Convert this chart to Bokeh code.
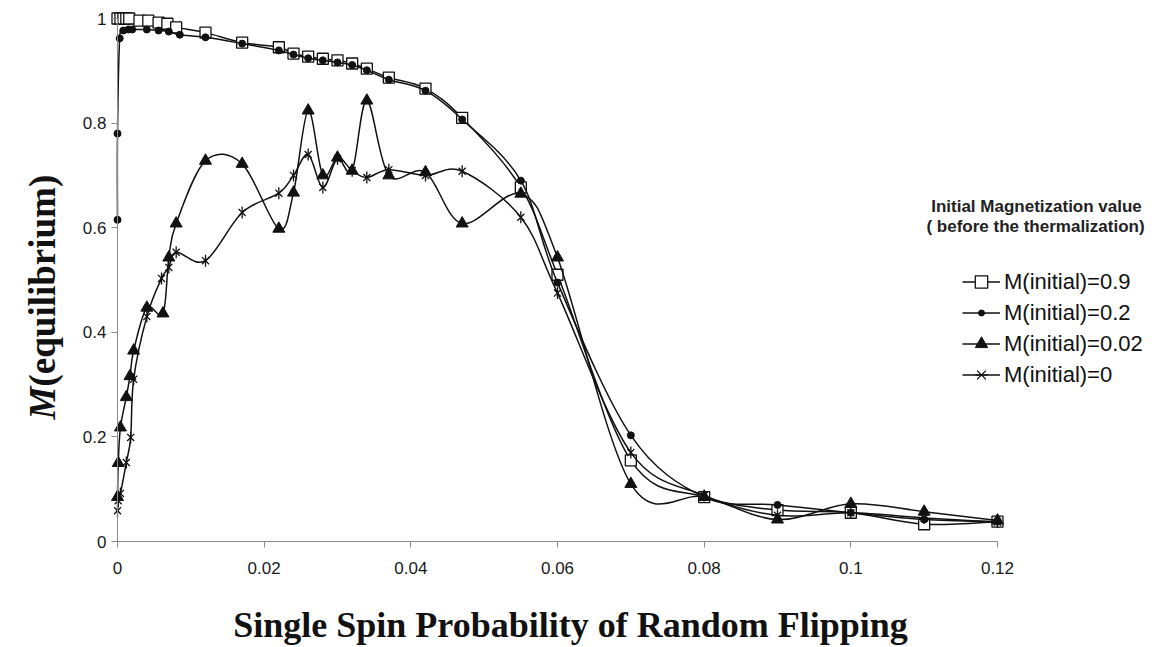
import numpy as np
from bokeh.plotting import figure
from bokeh.models import (Range1d, FixedTicker, CustomJSTickFormatter, Label,
                          Legend, LegendItem, ColumnDataSource)
from bokeh.embed import file_html
from bokeh.resources import INLINE

# Equilibrium magnetization vs. single spin flip probability, for four initial magnetizations
sq_x = [0, 0.0004, 0.0008, 0.0012, 0.0016, 0.003, 0.0042, 0.0056, 0.0068, 0.008, 0.012, 0.017,
        0.022, 0.024, 0.026, 0.028, 0.030, 0.032, 0.034, 0.037, 0.042, 0.047, 0.055, 0.06,
        0.07, 0.08, 0.09, 0.1, 0.11, 0.12]
sq_y = [1, 1, 1, 1, 1, 0.996, 0.996, 0.992, 0.99, 0.983, 0.973, 0.954,
        0.945, 0.933, 0.927, 0.923, 0.92, 0.914, 0.904, 0.887, 0.866, 0.81, 0.677, 0.51,
        0.155, 0.085, 0.06, 0.055, 0.033, 0.038]

ci_x = [0, 0, 0.0003, 0.0008, 0.0015, 0.002, 0.004, 0.0056, 0.007, 0.0085, 0.012, 0.017,
        0.022, 0.024, 0.026, 0.028, 0.030, 0.032, 0.034, 0.037, 0.042, 0.047, 0.055, 0.06,
        0.07, 0.08, 0.09, 0.1, 0.11, 0.12]
ci_y = [0.615, 0.78, 0.962, 0.977, 0.979, 0.979, 0.979, 0.977, 0.975, 0.969, 0.964, 0.952,
        0.939, 0.931, 0.924, 0.92, 0.916, 0.911, 0.901, 0.883, 0.862, 0.807, 0.69, 0.495,
        0.203, 0.085, 0.07, 0.055, 0.042, 0.038]

tr_x = [0, 0.0001, 0.0004, 0.0012, 0.0017, 0.0022, 0.004, 0.0062, 0.007, 0.008, 0.012, 0.017,
        0.022, 0.024, 0.026, 0.028, 0.030, 0.032, 0.034, 0.037, 0.042, 0.047, 0.055, 0.06,
        0.07, 0.08, 0.09, 0.1, 0.11, 0.12]
tr_y = [0.085, 0.15, 0.218, 0.276, 0.316, 0.365, 0.447, 0.436, 0.543, 0.608, 0.728, 0.722,
        0.598, 0.667, 0.824, 0.70, 0.734, 0.709, 0.843, 0.70, 0.706, 0.608, 0.665, 0.543,
        0.11, 0.085, 0.042, 0.072, 0.057, 0.04]

st_x = [0, 0.0001, 0.0004, 0.0012, 0.0018, 0.0022, 0.004, 0.006, 0.007, 0.008, 0.012, 0.017,
        0.022, 0.024, 0.026, 0.028, 0.030, 0.032, 0.034, 0.037, 0.042, 0.047, 0.055, 0.06,
        0.07, 0.08, 0.09, 0.1, 0.11, 0.12]
st_y = [0.059, 0.078, 0.092, 0.151, 0.199, 0.31, 0.43, 0.503, 0.524, 0.553, 0.537, 0.629,
        0.666, 0.70, 0.74, 0.677, 0.732, 0.709, 0.696, 0.711, 0.70, 0.708, 0.62, 0.475,
        0.17, 0.088, 0.05, 0.055, 0.045, 0.037]

series_names = ["M(initial)=0.9", "M(initial)=0.2", "M(initial)=0.02", "M(initial)=0"]
x_ticks = [0, 0.02, 0.04, 0.06, 0.08, 0.1, 0.12]
y_ticks = [0, 0.2, 0.4, 0.6, 0.8, 1]

LINE = "#111111"
AXIS = "#8a8a8a"
W, H = 1152, 647


def smooth_segments(xs, ys):
    """Cubic Bezier control points (Catmull-Rom style) joining consecutive points."""
    P = np.column_stack([xs, ys]).astype(float)
    n = len(P)
    d = dict(x0=[], y0=[], x1=[], y1=[], cx0=[], cy0=[], cx1=[], cy1=[])
    for i in range(n - 1):
        p0 = P[i - 1] if i > 0 else P[i]
        p1, p2 = P[i], P[i + 1]
        p3 = P[i + 2] if i + 2 < n else P[i + 1]
        c1 = p1 + (p2 - p0) / 6.0
        c2 = p2 - (p3 - p1) / 6.0
        d["x0"].append(p1[0]); d["y0"].append(p1[1])
        d["x1"].append(p2[0]); d["y1"].append(p2[1])
        d["cx0"].append(c1[0]); d["cy0"].append(c1[1])
        d["cx1"].append(c2[0]); d["cy1"].append(c2[1])
    return ColumnDataSource(d)


# The frame spans the whole canvas; the axes are pinned at x=0 / y=0 inside it.
x_scale = 7333.3   # px per unit of probability
y_scale = 523.0    # px per unit of magnetization
x0_px, y0_px = 117.0, 106.0  # where the axes cross, from the left / bottom edge
x_range = Range1d(-x0_px / x_scale, (W - x0_px) / x_scale)
y_range = Range1d(-y0_px / y_scale, (H - y0_px) / y_scale)

p = figure(width=W, height=H, output_backend="svg", toolbar_location=None,
           x_range=x_range, y_range=y_range,
           min_border_left=0, min_border_right=0, min_border_top=0, min_border_bottom=0)
p.grid.visible = False
p.outline_line_color = None
p.background_fill_color = "white"
p.border_fill_color = "white"

fmt = CustomJSTickFormatter(code="return String(Number(tick.toFixed(4)));")
for ax in (p.xaxis[0], p.yaxis[0]):
    ax.axis_line_color = AXIS
    ax.axis_line_width = 1
    ax.major_tick_line_color = AXIS
    ax.major_tick_out = 6
    ax.major_tick_in = 0
    ax.minor_tick_line_color = None
    ax.major_label_text_font = "Liberation Sans"
    ax.major_label_text_font_size = "17px"
    ax.major_label_text_color = "#1a1a1a"
    ax.formatter = fmt
p.xaxis.ticker = FixedTicker(ticks=x_ticks)
p.yaxis.ticker = FixedTicker(ticks=y_ticks)
p.xaxis.bounds = (0, 0.12)
p.yaxis.bounds = (0, 1)
p.xaxis.fixed_location = 0
p.yaxis.fixed_location = 0
p.xaxis.major_label_standoff = 14
p.yaxis.major_label_standoff = 5

items = []

# M(initial)=0.9 : open squares
r_l = p.bezier(x0="x0", y0="y0", x1="x1", y1="y1", cx0="cx0", cy0="cy0", cx1="cx1", cy1="cy1",
               source=smooth_segments(sq_x, sq_y), line_color=LINE, line_width=1.5)
r_m = p.scatter(sq_x, sq_y, marker="square", size=11, fill_color="white",
                line_color=LINE, line_width=1.3)
items.append(LegendItem(label=series_names[0], renderers=[r_l, r_m]))

# M(initial)=0.2 : filled circles (their key marker sits in a small key of its own below)
r_l = p.bezier(x0="x0", y0="y0", x1="x1", y1="y1", cx0="cx0", cy0="cy0", cx1="cx1", cy1="cy1",
               source=smooth_segments(ci_x, ci_y), line_color=LINE, line_width=1.5)
r_circ = p.scatter(ci_x, ci_y, marker="circle", size=7, fill_color=LINE, line_color=LINE)
items.append(LegendItem(label=series_names[1], renderers=[r_l]))

# M(initial)=0.02 : filled triangles
r_l = p.bezier(x0="x0", y0="y0", x1="x1", y1="y1", cx0="cx0", cy0="cy0", cx1="cx1", cy1="cy1",
               source=smooth_segments(tr_x, tr_y), line_color=LINE, line_width=1.5)
r_m = p.scatter(tr_x, tr_y, marker="triangle", size=12, fill_color=LINE, line_color=LINE)
items.append(LegendItem(label=series_names[2], renderers=[r_l, r_m]))

# M(initial)=0 : stars (x with a vertical bar)
r_l = p.bezier(x0="x0", y0="y0", x1="x1", y1="y1", cx0="cx0", cy0="cy0", cx1="cx1", cy1="cy1",
               source=smooth_segments(st_x, st_y), line_color=LINE, line_width=1.5)
r_m1 = p.scatter(st_x, st_y, marker="x", size=10, line_color=LINE, line_width=1.3)
r_m2 = p.scatter(st_x, st_y, marker="dash", angle=np.pi / 2, size=12, line_color=LINE,
                 line_width=1.3)
items.append(LegendItem(label=series_names[3], renderers=[r_l, r_m1, r_m2]))

legend = Legend(items=items, location=(962, 257), orientation="vertical",
                label_text_font="Liberation Sans", label_text_font_size="22px",
                label_text_color="#111111", glyph_width=38, glyph_height=31,
                label_height=31, label_standoff=4, spacing=0, padding=0, margin=0,
                border_line_color=None, background_fill_alpha=0)
p.add_layout(legend)

# smaller key box so the circle marker keeps its small size, centred on the second row
dot_key = Legend(items=[LegendItem(label=" ", renderers=[r_circ])], location=(962, 327.5),
                 label_text_font_size="1px", glyph_width=38, glyph_height=15,
                 label_height=15, label_standoff=0, spacing=0, padding=0, margin=0,
                 border_line_color=None, background_fill_alpha=0)
p.add_layout(dot_key)

# legend heading
for txt, sx, sy in (("Initial Magnetization value", 1036, 441),
                    ("( before the thermalization)", 1035, 421)):
    p.add_layout(Label(x=sx, y=sy, x_units="screen", y_units="screen", text=txt,
                       text_font="Liberation Sans", text_font_style="bold",
                       text_font_size="17px", text_color="#222222",
                       text_align="center", text_baseline="middle"))

# axis titles
p.add_layout(Label(x=570, y=23, x_units="screen", y_units="screen",
                   text="Single Spin Probability of Random Flipping",
                   text_font="Liberation Serif", text_font_style="bold",
                   text_font_size="36px", text_color="#111111",
                   text_align="center", text_baseline="alphabetic"))
p.add_layout(Label(x=42, y=261, x_units="screen", y_units="screen", text="M",
                   angle=np.pi / 2, text_font="Liberation Serif", text_font_style="bold italic",
                   text_font_size="37px", text_color="#111111",
                   text_align="right", text_baseline="alphabetic"))
p.add_layout(Label(x=42, y=261, x_units="screen", y_units="screen", text="(equilibrium)",
                   angle=np.pi / 2, text_font="Liberation Serif", text_font_style="bold",
                   text_font_size="37px", text_color="#111111",
                   text_align="left", text_baseline="alphabetic"))

open("out.html", "w").write(file_html(p, INLINE))
